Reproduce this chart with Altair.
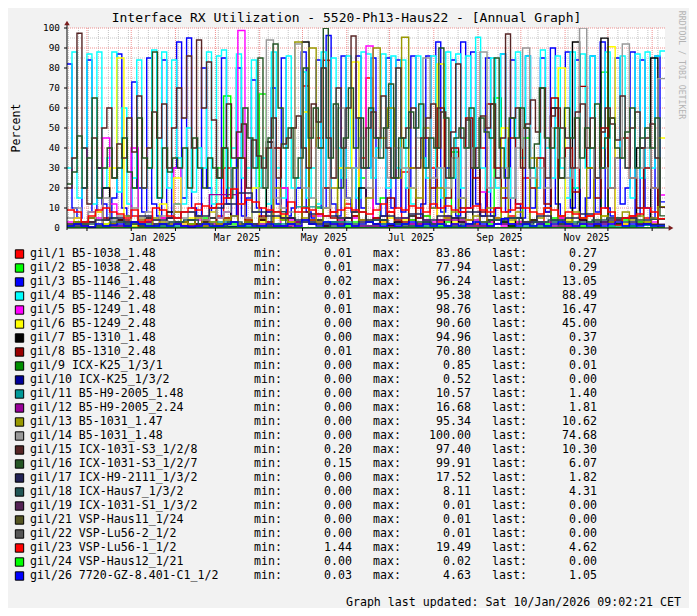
import altair as alt
import pandas as pd

# ---------------- time range ----------------
start = pd.Timestamp("2024-11-17")
end = pd.Timestamp("2026-01-10")
span = (end - start).days  # 419 days

# ---------------- legend info ----------------
names = ["gil/1 B5-1038_1.48", "gil/2 B5-1038_2.48", "gil/3 B5-1146_1.48", "gil/4 B5-1146_2.48",
         "gil/5 B5-1249_1.48", "gil/6 B5-1249_2.48", "gil/7 B5-1310_1.48", "gil/8 B5-1310_2.48",
         "gil/9 ICX-K25_1/3/1", "gil/10 ICX-K25_1/3/2", "gil/11 B5-H9-2005_1.48", "gil/12 B5-H9-2005_2.24",
         "gil/13 B5-1031_1.47", "gil/14 B5-1031_1.48", "gil/15 ICX-1031-S3_1/2/8", "gil/16 ICX-1031-S3_1/2/7",
         "gil/17 ICX-H9-2111_1/3/2", "gil/18 ICX-Haus7_1/3/2", "gil/19 ICX-1031-S1_1/3/2", "gil/21 VSP-Haus11_1/24",
         "gil/22 VSP-Lu56-2_1/2", "gil/23 VSP-Lu56-1_1/2", "gil/24 VSP-Haus12_1/21", "gil/26 7720-GZ-8.401-C1_1/2"]
colors = ["#FF0000", "#00FF00", "#0000FF", "#00FFFF", "#FF00FF", "#FFFF00", "#000000", "#990000",
          "#008F00", "#000099", "#009999", "#990099", "#999900", "#999999", "#552525", "#255525",
          "#222255", "#225555", "#552255", "#555522", "#555555", "#FF0000", "#00FF00", "#0000FF"]
mins = [0.01, 0.01, 0.02, 0.01, 0.01, 0.00, 0.00, 0.01, 0.00, 0.00, 0.00, 0.00,
        0.00, 0.00, 0.20, 0.15, 0.00, 0.00, 0.00, 0.00, 0.00, 1.44, 0.00, 0.03]
maxs = [83.86, 77.94, 96.24, 95.38, 98.76, 90.60, 94.96, 70.80, 0.85, 0.52, 10.57, 16.68,
        95.34, 100.00, 97.40, 99.91, 17.52, 8.11, 0.01, 0.01, 0.01, 19.49, 0.02, 4.63]
lasts = [0.27, 0.29, 13.05, 88.49, 16.47, 45.00, 0.37, 0.30, 0.01, 0.00, 1.40, 1.81,
         10.62, 74.68, 10.30, 6.07, 1.82, 4.31, 0.00, 0.00, 0.00, 4.62, 0.00, 1.05]

# ---------------- series values (percent, evenly spaced over the range) ----------------
g1 = [2,5,1,3,8,2,1,4,2,6,1,3,2,5,1,8,3,2,12,4,2,6,30,3,2,5,1,4,8,2,20,5,3,71,6,45,83.86,8,4,12,6,35,75,5,3,8,2,28,4,2,6,30,3,5,2,8,4,2,40,3,5,2,6,3,25,4,2,8,3,5,2,30,4,6,2,3,55,4,2,6,3,5,2,0.27]
g2 = [1,3,2,8,1,2,5,1,3,20,2,1,4,2,1,12,3,2,1,5,2,30,66,2,1,3,8,67,2,1,4,2,1,3,2,10,1,2,4,1,3,25,1,2,15,1,3,2,4,1,6,2,1,3,38,1,2,4,1,2,65,3,1,2,45,1,3,2,5,1,2,20,1,3,2,77.94,1,2,4,1,3,2,1,0.29]
g3 = [82,10,5,20,84,8,30,12,4,15,87,10,6,73,20,8,85,12,6,84,5,30,93,15,95,10,6,80,20,8,5,85,12,6,80,6,15,74,10,5,8,70,12,85,6,10,20,88,8,5,84,10,96.24,12,6,86,15,8,86,10,30,85,12,6,85,10,84,8,20,86,5,12,86,10,93,8,30,84,6,93,10,88,12,6,85,6,10,87,8,84,12,5,86,10,20,85,8,90,12,6,88,10,84,5,15,86,8,93,10,6,85,12,20,88,6,84,10,5,86,13.05]
g4 = [30,88,15,40,87,12,88,20,35,88,18,60,12,25,84,20,30,89,15,88,20,84,35,12,50,18,40,30,88,12,86,89,20,40,87,25,30,84,20,35,12,88,30,15,86,20,25,78,15,30,12,88,20,85,40,25,86,30,15,88,87,25,40,87,20,86,30,84,20,12,86,35,25,86,30,15,88,25,87,20,86,40,95.38,30,18,85,20,87,30,15,88,35,86,30,20,89,40,25,86,30,15,88,20,87,30,86,25,40,88,20,35,86,30,15,87,25,88,30,86,88.49]
g5 = [3,1,2,8,5,45,12,3,2,40,4,1,2,5,3,30,2,1,4,3,2,5,8,3,98.76,2,1,5,3,2,20,4,1,3,2,6,1,3,4,2,5,3,91,2,4,1,3,5,2,1,4,3,2,6,1,3,2,4,18,3,2,1,5,3,2,4,1,3,2,5,1,3,4,2,1,3,2,5,1,3,2,4,3,16.47]
g6 = [2,5,1,3,8,2,30,85,3,1,5,2,4,12,3,25,2,5,1,3,8,2,5,3,1,4,20,3,2,5,6,3,2,58,4,1,3,2,30,5,83,2,4,1,3,5,2,4,20,3,1,2,82,4,3,5,2,1,3,4,2,50,3,5,2,4,1,3,2,80,4,3,5,2,1,6,90.6,3,2,5,4,3,2,45]
g7 = [1,3,2,5,1,20,2,4,1,3,2,5,1,2,8,3,1,4,2,3,5,1,2,30,1,3,2,4,43,2,1,5,3,93,2,4,1,3,2,5,1,20,3,2,4,1,3,2,6,1,3,2,4,1,5,3,2,30,1,4,2,3,1,5,2,4,3,1,60,2,3,93,4,2,1,94.96,3,2,5,1,40,2,85,0.37]
g8 = [0.5,2,1,3,1,5,2,1,4,2,1,3,2,1,5,2,3,1,2,4,10,2,5,3,35,4,2,6,3,40,5,2,3,8,4,2,20,5,3,2,6,4,3,5,2,15,4,3,30,5,45,20,60,15,40,10,55,25,8,62,30,15,45,10,50,20,35,12,65,25,40,18,70.8,30,15,50,20,35,45,25,10,30,20,0.3]
g9 = [0.1,0.3,0.85,0.2,0.1,0.4,0.2,0.1,0.3,0.01]
g10 = [0.1,0.2,0.52,0.1,0.3,0.1,0.2,0.0]
g11 = [0.5,1,2,1,0.5,3,1,2,10.57,3,1,2,1,0.5,1,2,1,3,2,1,1.4]
g12 = [0.5,1,3,2,1,16.68,2,1,3,2,1,0.5,2,4,1,2,3,1,2,5,1.81]
g13 = [1,3,2,5,1,4,2,3,6,2,4,1,5,3,2,8,3,2,5,1,3,2,4,6,2,3,1,5,2,20,4,3,93,5,90,3,10,20,5,30,8,4,15,90,45,60,25,95.34,30,15,50,10,20,5,8,15,4,6,3,10,5,20,4,8,3,35,5,10,4,6,3,8,5,30,4,6,3,5,8,4,6,3,5,10.62]
g14 = [5,10,3,8,2,15,4,6,3,10,5,8,4,6,3,12,5,8,6,4,10,5,8,30,12,5,8,20,94,15,10,8,92,20,15,40,10,25,60,15,30,45,20,35,50,25,40,30,20,45,85,25,30,20,35,15,40,30,88,20,25,30,15,40,90,25,30,20,50,35,25,30,100,40,25,30,20,35,92,25,30,40,20,74.68]
g15 = [20,35,97.4,40,12,45,30,50,60,25,42,35,55,38,66,20,40,58,45,62,30,50,70,55,86,40,94,60,83,54,25,40,62,35,48,52,20,44,36,30,40,55,25,42,45,50,56,40,30,62,53,80,45,25,70,40,60,96,55,30,50,58,45,66,40,25,80,45,50,60,30,45,55,62,40,58,25,48,82,45,54,30,40,56,50,62,25,45,97,55,60,30,52,64,48,70,25,56,60,50,45,30,58,62,40,55,25,48,60,52,44,66,30,50,58,40,45,52,35,10.3]
g16 = [22,28,46,20,35,65,15,30,40,25,30,45,28,20,55,35,30,88,15,40,28,35,30,40,20,45,30,20,35,30,25,40,15,30,35,60,45,30,85,20,45,92,60,40,50,25,35,80,45,60,40,99.91,35,62,20,45,70,40,55,30,60,45,35,50,72,25,45,40,58,50,62,30,45,40,90,55,25,45,50,40,60,30,55,48,45,85,40,25,55,45,60,50,30,42,70,45,40,50,25,60,45,55,35,50,40,62,30,45,55,40,35,48,60,30,45,50,40,55,6.07]
g17 = [2,3,4,5,3,6,4,5,8,6,10,12,17.52,8,6,5,4,7,6,5,8,4,6,5,7,4,6,5,8,6,4,5,3,6,4,5,7,3,4,5,2,1.82]
g18 = [1,2,1,3,2,1,2,3,4,2,1,3,2,1,8.11,2,3,2,1,2,3,4,2,1,3,2,1,2,3,4,5,2,3,4,2,3,4,5,3,4,4.31]
g19 = [0,0.01,0,0,0.01,0]
g21 = [0,0,0.01,0,0.01,0]
g22 = [0.01,0,0,0.01,0,0]
g23 = [9,8,3,6,9,10,8,7,5,9,3,4,10,9,6,5,8,10,9,11,10,12,15,19.49,12,14,13,10,9,8,7,13,8,10,9,7,6,8,9,10,9,8,7,9,12,8,10,9,11,10,8,12,10,11,9,8,10,11,9,8,10,8,9,12,10,8,7,10,9,6,8,7,5,6,7,10,8,1.44,5,6,7,10,8,4.62]
g24 = [0,0.02,0.01,0,0.01,0]
g26 = [1,2,1,0.5,2,1,1.5,2,1,3,2,1,1,2,1,2,1,0.5,1,2,1,1,2,3,1,2,1,1,2,1,1,2,1,4,2,1,3,2,1,2,1,2,3,2,1,2,1,2,3,1,2,1,2,1,2,1,2,3,2,1,2,4.63,2,1,2,1,2,1,2,3,2,1,2,1,2,1,2,3,1,2,1,2,1,1.05]

series = [g1, g2, g3, g4, g5, g6, g7, g8, g9, g10, g11, g12, g13, g14, g15, g16,
          g17, g18, g19, g21, g22, g23, g24, g26]

# tick labels of the time axis (centred on the month, as rrdtool does)
tick_labels = ["Jan 2025", "Mar 2025", "May 2025", "Jul 2025", "Sep 2025", "Nov 2025"]
tick_months = ["2025-01-01", "2025-03-01", "2025-05-01", "2025-07-01", "2025-09-01", "2025-11-01"]
y_ticks = [0, 10, 20, 30, 40, 50, 60, 70, 80, 90, 100]

title = "Interface RX Utilization - 5520-Ph13-Haus22 - [Annual Graph]"
updated = "Graph last updated: Sat 10/Jan/2026 09:02:21 CET"

# ---------------- build tables ----------------
rows = []
for name, vals in zip(names, series):
    n = len(vals)
    for k, v in enumerate(vals + [vals[-1]]):
        rows.append({"s": name, "t": span * k / n, "v": v})
df = pd.DataFrame(rows)

month_starts = pd.date_range("2024-12-01", "2026-01-01", freq="MS")
weeks = pd.date_range("2024-11-18", end, freq="7D")
df_major_x = pd.DataFrame({"t": [(d - start).days for d in month_starts]})
df_minor_x = pd.DataFrame({"t": [(d - start).days for d in weeks]})
df_major_y = pd.DataFrame({"v": [10, 20, 30, 40, 50, 60, 70, 80, 90, 100]})
df_minor_y = pd.DataFrame({"v": [5, 15, 25, 35, 45, 55, 65, 75, 85, 95]})
df_xlab = pd.DataFrame({"t": [(pd.Timestamp(m) - start).days + 15 for m in tick_months], "lab": tick_labels})
df_ylab = pd.DataFrame({"v": y_ticks, "lab": [str(v) for v in y_ticks]})
df_leg = pd.DataFrame({"row": list(range(len(names))), "name": names, "color": colors,
                       "mn": [f"{m:.2f}" for m in mins], "mx": [f"{m:.2f}" for m in maxs],
                       "ls": [f"{m:.2f}" for m in lasts]})

W, H = 598, 200
FONT = "DejaVu Sans Mono"
X = alt.X("t:Q", scale=alt.Scale(domain=[0, span], nice=False, zero=False), axis=None)
Y = alt.Y("v:Q", scale=alt.Scale(domain=[0, 100], nice=False), axis=None)

layers = []
# grid
layers.append(alt.Chart(df_minor_x).mark_rule(color="#c4c4c4", strokeDash=[1, 1], strokeWidth=1).encode(x=X))
layers.append(alt.Chart(df_minor_y).mark_rule(color="#c4c4c4", strokeDash=[1, 1], strokeWidth=1).encode(y=Y))
layers.append(alt.Chart(df_major_x).mark_rule(color="#f09090", strokeDash=[1, 1], strokeWidth=1).encode(x=X))
layers.append(alt.Chart(df_major_y).mark_rule(color="#f09090", strokeDash=[1, 1], strokeWidth=1).encode(y=Y))

# data lines, drawn in legend order (later on top)
for name, col in zip(names, colors):
    layers.append(
        alt.Chart(df).transform_filter(alt.datum.s == name)
        .mark_line(color=col, strokeWidth=1.4, interpolate="step-after", clip=True)
        .encode(x=X, y=Y)
    )

# axes
one = df_ylab[df_ylab.v == 0]
layers.append(alt.Chart(df_major_x).mark_rule(color="#000000", strokeWidth=1)
              .encode(x=X, y=alt.value(H), y2=alt.value(H + 3)))
layers.append(alt.Chart(df_major_y).mark_rule(color="#000000", strokeWidth=1)
              .encode(y=Y, x=alt.value(-3), x2=alt.value(0)))
layers.append(alt.Chart(one).mark_rule(color="#000000", strokeWidth=1)
              .encode(x=alt.value(0), x2=alt.value(W + 5), y=alt.value(H)))
layers.append(alt.Chart(one).mark_rule(color="#000000", strokeWidth=1)
              .encode(x=alt.value(0), y=alt.value(-4), y2=alt.value(H + 2)))
layers.append(alt.Chart(one).mark_point(shape="triangle-right", filled=True, color="#7a1c1c", size=30, opacity=1)
              .encode(x=alt.value(W + 6), y=alt.value(H)))
layers.append(alt.Chart(one).mark_point(shape="triangle-up", filled=True, color="#7a1c1c", size=30, opacity=1)
              .encode(x=alt.value(0), y=alt.value(-5)))

# tick labels
layers.append(alt.Chart(df_xlab).mark_text(font=FONT, fontSize=9.6, color="#000000", baseline="middle")
              .encode(x=X, y=alt.value(H + 10), text="lab:N"))
layers.append(alt.Chart(df_ylab).mark_text(font=FONT, fontSize=9.4, color="#000000", align="right", baseline="middle")
              .encode(y=Y, x=alt.value(-7), text="lab:N"))

# title, y label, credit, footer
layers.append(alt.Chart(one).mark_text(text=title, font=FONT, fontSize=13, color="#000000", baseline="middle")
              .encode(x=alt.value(279.5), y=alt.value(-10)))
layers.append(alt.Chart(one).mark_text(text="Percent", font=FONT, fontSize=11.6, color="#000000",
                                       baseline="middle", angle=270)
              .encode(x=alt.value(-50), y=alt.value(100)))
layers.append(alt.Chart(one).mark_text(text="RRDTOOL / TOBI OETIKER", font=FONT, fontSize=8.2, color="#b4b4b4",
                                       baseline="middle", angle=90)
              .encode(x=alt.value(614), y=alt.value(37)))
layers.append(alt.Chart(one).mark_text(text=updated, font=FONT, fontSize=11.6, color="#000000",
                                       align="right", baseline="middle")
              .encode(x=alt.value(614), y=alt.value(575)))

# legend
leg = alt.Chart(df_leg).transform_calculate(py="226 + 14 * datum.row")
PY = alt.Y("py:Q", scale=None)
layers.append(leg.mark_square(size=70, stroke="#000000", strokeWidth=1, opacity=1)
              .encode(x=alt.value(-47.5), y=PY, fill=alt.Color("color:N", scale=None)))
txt = dict(font=FONT, fontSize=11.6, color="#000000", baseline="middle")
layers.append(leg.mark_text(align="left", **txt).encode(x=alt.value(-37), y=PY, text="name:N"))
layers.append(leg.mark_text(align="left", text="min:", **txt).encode(x=alt.value(187), y=PY))
layers.append(leg.mark_text(align="right", **txt).encode(x=alt.value(285), y=PY, text="mn:N"))
layers.append(leg.mark_text(align="left", text="max:", **txt).encode(x=alt.value(306), y=PY))
layers.append(leg.mark_text(align="right", **txt).encode(x=alt.value(404), y=PY, text="mx:N"))
layers.append(leg.mark_text(align="left", text="last:", **txt).encode(x=alt.value(425), y=PY))
layers.append(leg.mark_text(align="right", **txt).encode(x=alt.value(530), y=PY, text="ls:N"))

chart = alt.layer(*layers).properties(
    width=W, height=H,
    autosize=alt.AutoSizeParams(type="none"),
    padding={"left": 59, "top": 20, "right": 24, "bottom": 380},
    background="#f2f2f2",
).configure_view(fill="white", stroke=None)

chart.save("out.html", embed_options={"renderer": "svg", "actions": False})
